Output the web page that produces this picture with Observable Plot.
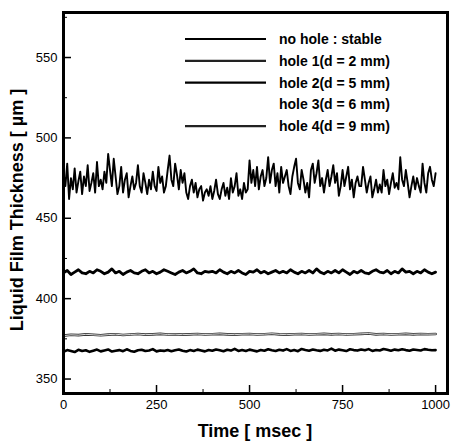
<!DOCTYPE html>
<html><head><meta charset="utf-8">
<script src="https://cdn.jsdelivr.net/npm/d3@7"></script>
<script src="https://cdn.jsdelivr.net/npm/@observablehq/plot@0.6"></script>
<style>
body{margin:0;background:#fff;font-family:"Liberation Sans",Arial,sans-serif;}
#wrap{position:relative;width:451px;height:447px;}
</style></head>
<body><div id="wrap"></div>
<script>
// ---- data ----
const seriesNames = ["no hole : stable","hole 1(d = 2 mm)","hole 2(d = 5 mm)","hole 3(d = 6 mm)","hole 4(d = 9 mm)"];
const xTicks = [0,250,500,750,1000];
const xMinor = [125,375,625,875];
const yTicks = [350,400,450,500,550];
const yMinor = [375,425,475,525,575];
// time step 5 msec
const noHole = [
478,470,484,462,475,468,481,466,473,479,
465,476,470,483,467,472,478,466,485,470,
474,468,479,472,490,480,470,487,476,465,
470,482,466,474,478,463,470,476,468,472,
483,470,466,478,472,465,474,468,479,470,
467,482,472,476,466,470,480,489,474,470,
484,477,468,480,472,478,466,462,470,474,
466,472,463,468,470,461,466,468,464,470,
462,467,474,465,462,468,472,464,469,462,
475,466,470,478,464,468,462,472,466,468,
486,472,480,470,482,468,476,480,470,475,
488,472,480,484,470,478,466,482,472,476,
480,470,465,476,482,487,472,468,480,474,
466,472,463,480,484,472,478,486,470,475,
466,474,480,470,476,483,472,478,464,470,
480,470,476,482,468,474,463,472,476,470,
470,482,474,466,472,476,463,468,474,466,
471,466,480,470,474,465,472,478,469,472,
468,488,474,470,480,472,463,470,476,468,
475,470,466,484,472,466,478,482,474,470,
478];
// time step 10 msec
const hole2 = [
416,417.5,415,416.5,418,416,415.5,417,416,418,
417,415.5,416.5,418.5,416,417,415,416.5,417.5,416,
415.5,417,418,416,417,415.5,416.5,418,417,416,
415,416.5,417.5,416,417,418.5,416,415.5,417,416.5,
417,416,418,416.5,415.5,417,416,417.5,416,415,
417,416.5,418,416,417,415.5,416.5,417.5,416,417,
416,418,416.5,415.5,417,416,417.5,416,418.5,416.5,
415.5,417,416,417.5,416,418,416.5,415,417,416,
417.5,416,415.5,417,418,416.5,416,417.5,415.5,417,
416,418.5,416.5,417,415.5,417,416,418,416.5,415.5,416.5];
const hole4 = [
367,368,367.5,366.8,368.2,367.4,367.9,366.9,367.6,368.3,
367.2,367.8,368.4,367.1,367.6,368,367.3,368.5,367.5,367,
367.9,368.2,367.4,367.7,368.6,367.2,367.8,367.5,368.1,367.3,
367.9,368.4,367.6,367.1,368,367.5,368.3,367.8,367.2,368.1,
367.6,368.4,367.9,367.3,368.2,367.7,368.8,367.5,368,367.4,
368.3,367.8,367.2,368.1,367.6,368.5,367.9,367.4,368.2,367.7,
368.6,367.5,368,367.3,368.7,368.1,367.6,368.4,367.9,367.5,
368.2,367.8,368.9,367.6,368.3,367.9,367.4,368.5,368,367.7,
368.4,367.9,368.6,367.5,368.1,367.8,368.7,368.2,367.6,368.3,
367.9,368.5,368,367.6,368.4,368.1,367.8,368.6,368.2,367.9,368];
// time step 20 msec
const hole1 = [377,377.5,377.3,377.8,377.5,377.2,377.6,377.9,377.4,377.7,378,377.6,377.8,378.1,377.7,377.9,377.6,377.8,378,377.7,
377.9,378.1,377.8,377.6,377.9,378,377.7,377.9,378.2,377.8,377.6,377.9,378,377.7,377.9,378.1,377.8,378,377.7,377.9,
378.1,378.3,377.8,378,377.7,377.9,378.1,377.8,378,377.9,378];

const rows = (arr, step) => arr.map((v,i) => ({t: i*step, v}));
const xDom = [0, 1032], yDom = [341, 578];
// tick lengths in data units (major ~7px, minor ~4px)
const xPerPx = (xDom[1]-xDom[0]) / (451-63-4);
const yPerPx = (yDom[1]-yDom[0]) / (447-12-54);

const plot = Plot.plot({
  width: 451, height: 447,
  marginLeft: 63, marginRight: 4, marginTop: 12, marginBottom: 54,
  style: {fontFamily: '"Liberation Sans", Arial, sans-serif', color: "#000", background: "#fff"},
  x: {domain: xDom},
  y: {domain: yDom},
  marks: [
    Plot.lineY(rows(noHole,5), {x:"t", y:"v", stroke:"#000", strokeWidth:1.9, strokeLinejoin:"round"}),
    Plot.lineY(rows(hole2,10), {x:"t", y:"v", stroke:"#000", strokeWidth:2.8}),
    Plot.lineY(rows(hole1,20), {x:"t", y:"v", stroke:"#333", strokeWidth:2.6}),
    Plot.lineY(rows(hole1,20), {x:"t", y:"v", stroke:"#eee", strokeWidth:0.9}),
    Plot.lineY(rows(hole4,10), {x:"t", y:"v", stroke:"#000", strokeWidth:2.6}),
    Plot.axisX(xTicks, {anchor:"bottom", tickSize:0, tickPadding:6, fontSize:13, tickFormat:d=>String(d), label:null}),
    Plot.axisY(yTicks, {anchor:"left", tickSize:0, tickPadding:6, fontSize:13, tickFormat:d=>String(d), label:null}),
    Plot.ruleX(xTicks, {x:d=>d, y1:yDom[0], y2:yDom[0]+8*yPerPx, stroke:"#000", strokeWidth:1.5}),
    Plot.ruleX(xMinor, {x:d=>d, y1:yDom[0], y2:yDom[0]+4*yPerPx, stroke:"#000", strokeWidth:1}),
    Plot.ruleY(yTicks, {y:d=>d, x1:xDom[0], x2:xDom[0]+8*xPerPx, stroke:"#000", strokeWidth:1.5}),
    Plot.ruleY(yMinor, {y:d=>d, x1:xDom[0], x2:xDom[0]+4*xPerPx, stroke:"#000", strokeWidth:1}),
    Plot.frame({stroke:"#000", strokeWidth:3})
  ]
});
const wrap = document.getElementById("wrap");
wrap.appendChild(plot);

// axis titles and legend (overlay svg)
const ns = "http://www.w3.org/2000/svg";
const ov = document.createElementNS(ns, "svg");
ov.setAttribute("width", 451); ov.setAttribute("height", 447);
ov.style.position = "absolute"; ov.style.left = "0"; ov.style.top = "0";
ov.style.fontFamily = '"Liberation Sans", Arial, sans-serif';
function txt(x, y, s, size, extra) {
  const e = document.createElementNS(ns, "text");
  e.setAttribute("x", x); e.setAttribute("y", y);
  e.setAttribute("font-size", size); e.setAttribute("font-weight", "bold");
  for (const k in (extra||{})) e.setAttribute(k, extra[k]);
  e.textContent = s; ov.appendChild(e); return e;
}
txt(255, 437, "Time [ msec ]", 18, {"text-anchor":"middle"});
txt(0, 0, "Liquid Film Thickness [ µm ]", 18, {"text-anchor":"middle", transform:"translate(23,210) rotate(-90)"});
const legStroke = ["#000","#222","#000","#fff","#222"];
seriesNames.forEach((name, i) => {
  const y = 39 + i*21.8;
  const l = document.createElementNS(ns, "line");
  l.setAttribute("x1", 185); l.setAttribute("x2", 266);
  l.setAttribute("y1", y); l.setAttribute("y2", y);
  l.setAttribute("stroke", legStroke[i]); l.setAttribute("stroke-width", 2.2);
  ov.appendChild(l);
  txt(279, y + 5, name, 14);
});
wrap.appendChild(ov);
</script></body></html>
